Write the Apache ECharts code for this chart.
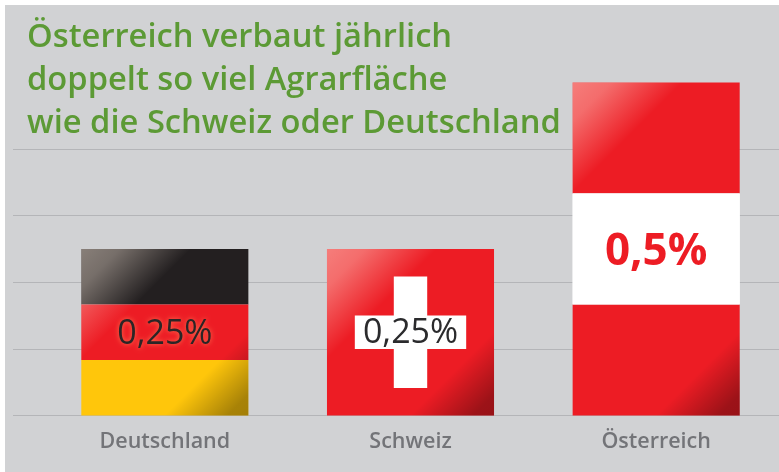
<!DOCTYPE html>
<html><head><meta charset="utf-8">
<style>html,body{margin:0;padding:0;background:#fff}#c{width:779px;height:472px}</style>
<script src="https://cdn.jsdelivr.net/npm/echarts@6/dist/echarts.min.js"></script>
</head><body><div id="c"></div>
<script>
const categories = ['Deutschland', 'Schweiz', 'Österreich'];
const shareValues = [0.25, 0.25, 0.5];
const valueLabels = ['0,25%', '0,25%', '0,5%'];
const gridTicks = [0, 0.1, 0.2, 0.3, 0.4, 0.5];
const titleLines = ['Österreich verbaut jährlich', 'doppelt so viel Agrarfläche', 'wie die Schweiz oder Deutschland'];

const FONT = '"Open Sans"';
const RED = '#ed1c24', BLACK = '#231f20', YELLOW = '#ffc60b', WHITE = '#ffffff';
const flags = [
  {stripes: [BLACK, RED, YELLOW], text: '#2b2526', glow: true, weight: 400, size: 34, dy: 2},
  {stripes: [RED], cross: true, text: '#2b2b2d', weight: 400, size: 34, dy: 1},
  {stripes: [RED, WHITE, RED], text: RED, weight: 700, size: 44, dy: 3}
];

function renderFlag(params, api) {
  const i = params.dataIndex;
  const flag = flags[i];
  const top = api.coord([i, api.value(1)]);
  const base = api.coord([i, 0]);
  const w = api.size([1, 0])[0] * 0.68;
  const x0 = top[0] - w / 2, y0 = top[1], h = base[1] - top[1], x1 = x0 + w, y1 = base[1];
  const kids = [];
  const n = flag.stripes.length;
  const rect = (x, y, wd, ht, fill) => ({type: 'rect', shape: {x, y, width: wd, height: ht}, style: {fill}});
  flag.stripes.forEach((c, k) => kids.push(rect(x0, y0 + h * k / n, w, h / n, c)));
  kids.push(rect(x0, y0, w, h, {
    type: 'linear', global: true, x: x0, y: y0, x2: x0 + 55, y2: y0 + 55,
    colorStops: [{offset: 0, color: 'rgba(255,240,225,0.46)'}, {offset: 0.35, color: 'rgba(255,240,225,0.38)'}, {offset: 1, color: 'rgba(255,240,225,0)'}]
  }));
  kids.push(rect(x0, y0, w, h, {
    type: 'linear', global: true, x: x1 - 42, y: y1 - 42, x2: x1, y2: y1,
    colorStops: [{offset: 0, color: 'rgba(0,0,0,0)'}, {offset: 0.75, color: 'rgba(0,0,0,0.34)'}, {offset: 1, color: 'rgba(0,0,0,0.36)'}]
  }));
  if (flag.cross) {
    const arm = w / 5, len = w * 2 / 3, cx = top[0], cy = y0 + h / 2;
    kids.push(rect(cx - arm / 2, cy - len / 2, arm, len, WHITE));
    kids.push(rect(cx - len / 2, cy - arm / 2, len, arm, WHITE));
  }
  if (n === 3 && flag.stripes[1] === WHITE) kids.push(rect(x0, y0 + h / 3, w, h / 3, WHITE));
  kids.push({
    type: 'text', x: top[0], y: y0 + h / 2 + flag.dy,
    style: {
      text: valueLabels[i], x: 0, y: 0, align: 'center', verticalAlign: 'middle',
      fontFamily: FONT, fontSize: flag.size, fontWeight: flag.weight, fill: flag.text,
      textShadowColor: flag.glow ? 'rgba(255,130,90,0.95)' : 'transparent', textShadowBlur: flag.glow ? 5 : 0,
      shadowColor: flag.glow ? 'rgba(255,130,90,0.95)' : 'transparent', shadowBlur: flag.glow ? 5 : 0
    }
  });
  return {type: 'group', children: kids};
}

const chart = echarts.init(document.getElementById('c'), null, {renderer: 'canvas'});
chart.setOption({
  animation: false,
  backgroundColor: '#ffffff',
  graphic: [
    {type: 'rect', z: -10, silent: true, shape: {x: 5, y: 5, width: 774, height: 467}, style: {fill: '#d1d2d4'}},
    ...titleLines.map((t, i) => ({
      type: 'text', z: 5, left: 27, top: 21.5 + i * 43,
      style: {text: t, fontFamily: FONT, fontSize: 32.7, fontWeight: 600, fill: '#5c9a35'}
    }))
  ],
  grid: [
    {left: 13, right: 0, top: 82.5, bottom: 56.5},
    {left: 42, right: 0, top: 82.5, bottom: 56.5}
  ],
  xAxis: [
    {gridIndex: 0, type: 'value', show: false},
    {gridIndex: 1, type: 'category', data: categories,
      axisLine: {show: false}, axisTick: {show: false},
      axisLabel: {color: '#737478', fontFamily: FONT, fontSize: 21.5, fontWeight: 600, margin: 15}}
  ],
  yAxis: [
    {gridIndex: 0, type: 'value', min: gridTicks[0], max: gridTicks[gridTicks.length - 1], interval: gridTicks[1],
      axisLine: {show: false}, axisTick: {show: false}, axisLabel: {show: false},
      splitLine: {show: true, showMaxLine: false, lineStyle: {color: '#b4b5b8', width: 1}}},
    {gridIndex: 1, type: 'value', min: gridTicks[0], max: gridTicks[gridTicks.length - 1], interval: gridTicks[1], show: false,
      splitLine: {show: false}}
  ],
  series: [{
    type: 'custom', xAxisIndex: 1, yAxisIndex: 1, clip: false,
    renderItem: renderFlag,
    encode: {x: 0, y: 1},
    data: categories.map((c, i) => [i, shareValues[i]])
  }]
});
</script></body></html>
